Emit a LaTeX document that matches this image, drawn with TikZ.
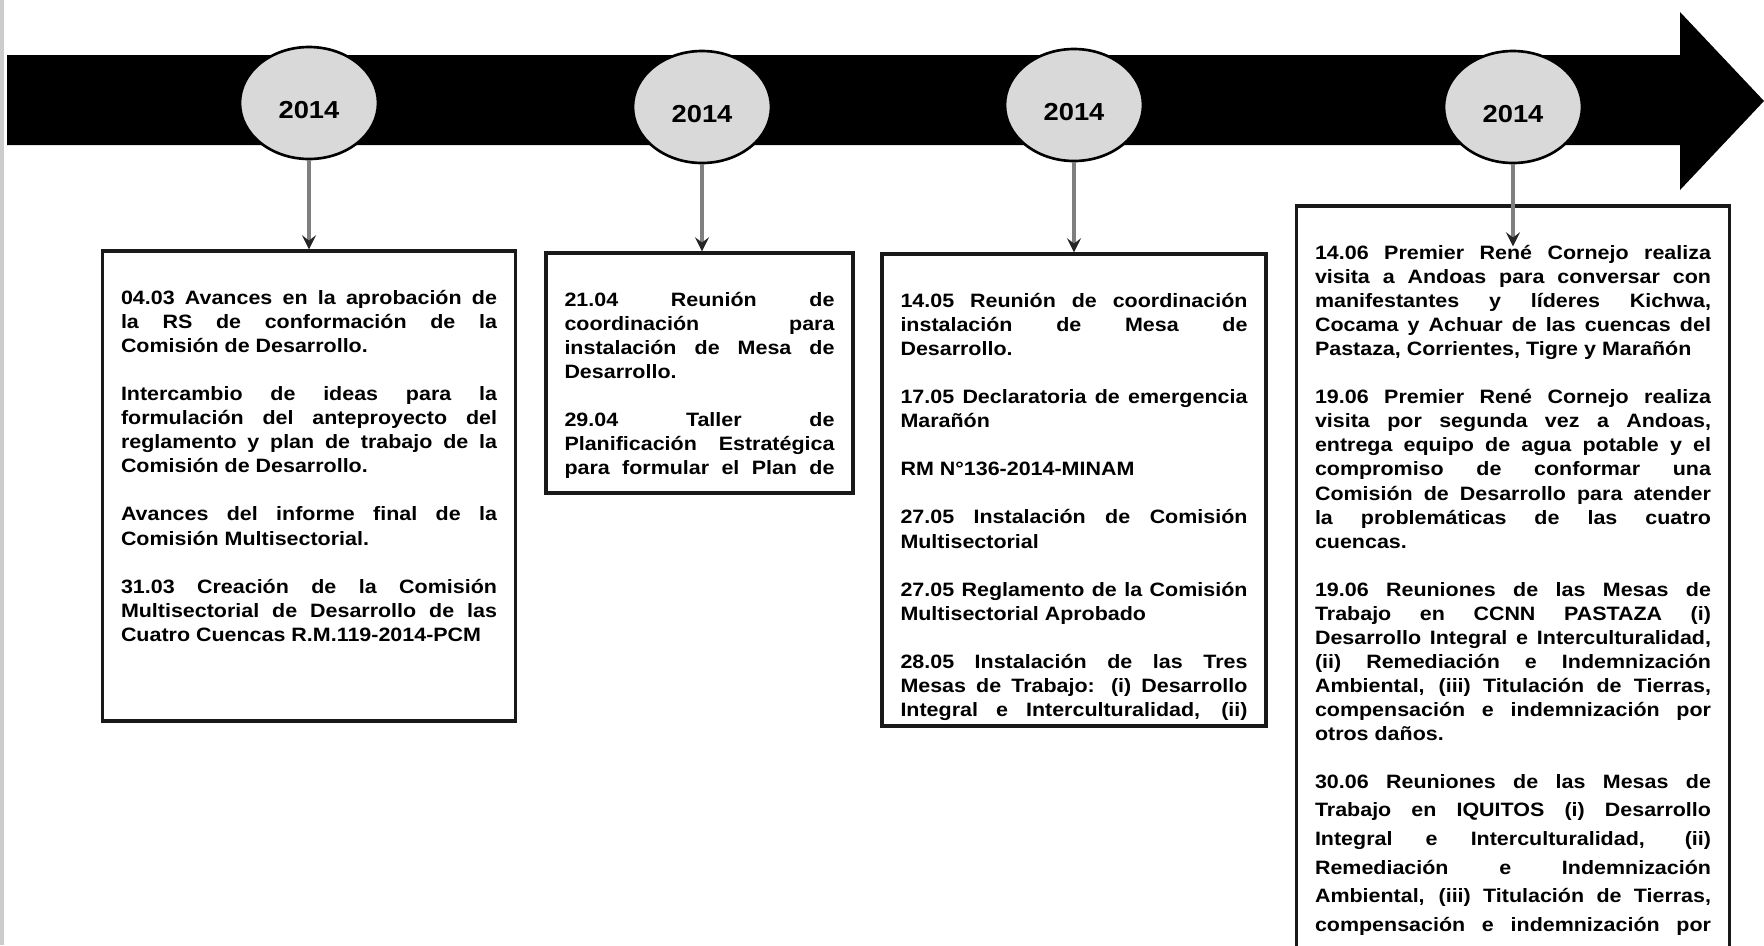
\documentclass[tikz,border=0pt]{standalone}
\usepackage{fontspec}
\setmainfont{Liberation Sans}[FakeStretch=1.11]
\usetikzlibrary{positioning, shapes.geometric, arrows.meta}
\definecolor{elipse}{HTML}{D9D9D9}
\definecolor{gris}{HTML}{7F7F7F}
\tolerance=10000
\hyphenpenalty=10000

\begin{document}
\begin{tikzpicture}[anio/.style={ellipse, draw=black, line width=1.5pt, fill=elipse, minimum width=2.76cm, minimum height=2.24cm, inner sep=0pt, font=\fontsize{14}{16}\selectfont\bfseries, text height=0.63cm, text depth=0pt},
  caja/.style={draw=black!90, line width=2pt, fill=white, inner xsep=0.37cm, inner ysep=0.78cm, font=\fontsize{11}{13.7}\selectfont\bfseries},
  flecha/.style={-{Stealth[length=8pt, width=8pt, inset=3pt, color=black!85]}, line width=1.8pt, draw=gris}]

  \useasboundingbox (0,0) rectangle (35.28,-18.9);
  \clip (0,0) rectangle (35.28,-18.9);

  % Page edge and timeline arrow
  \fill[black!20] (0,0) rectangle (0.09,-18.9);
  \fill[black] (0.14,-1.10) -- (33.60,-1.10) -- (33.60,-0.24) -- (35.28,-2.02) -- (33.60,-3.80) -- (33.60,-2.90) -- (0.14,-2.90) -- cycle;

  % Years
  \node[anio] (E1) at (6.18,-2.06) {2014};
  \node[anio] (E2) at (14.04,-2.14) {2014};
  \node[anio] (E3) at (21.48,-2.10) {2014};
  \node[anio] (E4) at (30.26,-2.14) {2014};

  % Boxes
  \node[caja, below=1.78cm of E1] (B1) {\parbox[t][7.84cm][t]{7.52cm}{\setlength{\parskip}{13.7pt}%
    04.03 Avances en la aprobación de\linebreak la RS de conformación de la\linebreak Comisión de Desarrollo.

    Intercambio de ideas para la\linebreak formulación del anteproyecto del\linebreak reglamento y plan de trabajo de la\linebreak Comisión de Desarrollo.

    Avances del informe final de la\linebreak Comisión Multisectorial.

    31.03 Creación de la Comisión\linebreak Multisectorial de Desarrollo de las\linebreak Cuatro Cuencas R.M.119-2014-PCM}};

  \node[caja, below=1.74cm of E2, xshift=-0.05cm] (B2) {\parbox[t][3.24cm][t]{5.40cm}{\setlength{\parskip}{13.7pt}%
    21.04 Reunión de\linebreak coordinación para\linebreak instalación de Mesa de\linebreak Desarrollo.

    29.04 Taller de\linebreak Planificación Estratégica\linebreak para formular el Plan de\parfillskip=0pt}};

  \node[caja, below=1.80cm of E3] (B3) {\parbox[t][7.88cm][t]{6.94cm}{\setlength{\parskip}{13.7pt}%
    14.05 Reunión de coordinación\linebreak instalación de Mesa de\linebreak Desarrollo.

    17.05 Declaratoria de emergencia\linebreak Marañón

    RM N°136-2014-MINAM

    27.05 Instalación de Comisión\linebreak Multisectorial

    27.05 Reglamento de la Comisión\linebreak Multisectorial Aprobado

    28.05 Instalación de las Tres\linebreak Mesas de Trabajo: (i) Desarrollo\linebreak Integral e Interculturalidad, (ii)\parfillskip=0pt}};

  \node[caja, below=0.80cm of E4] (B4) {\parbox[t][14.44cm][t]{7.92cm}{\setlength{\parskip}{13.7pt}%
    14.06 Premier René Cornejo realiza\linebreak visita a Andoas para conversar con\linebreak manifestantes y líderes Kichwa,\linebreak Cocama y Achuar de las cuencas del\linebreak Pastaza, Corrientes, Tigre y Marañón

    19.06 Premier René Cornejo realiza\linebreak visita por segunda vez a Andoas,\linebreak entrega equipo de agua potable y el\linebreak compromiso de conformar una\linebreak Comisión de Desarrollo para atender\linebreak la problemáticas de las cuatro\linebreak cuencas.

    19.06 Reuniones de las Mesas de\linebreak Trabajo en CCNN PASTAZA (i)\linebreak Desarrollo Integral e Interculturalidad,\linebreak (ii) Remediación e Indemnización\linebreak Ambiental, (iii) Titulación de Tierras,\linebreak compensación e indemnización por\linebreak otros daños.

    {\setlength{\parskip}{10.7pt}\fontsize{11}{16.3}\selectfont 30.06 Reuniones de las Mesas de\linebreak Trabajo en IQUITOS (i) Desarrollo\linebreak Integral e Interculturalidad, (ii)\linebreak Remediación e Indemnización\linebreak Ambiental, (iii) Titulación de Tierras,\linebreak compensación e indemnización por\parfillskip=0pt\par}}};
  \coordinate[below=0.84cm of B4.north] (T4);

  % Arrows from years to boxes
  \draw[flecha] (E1.south) -- (E1.south |- B1.north);
  \draw[flecha] (E2.south) -- (E2.south |- B2.north);
  \draw[flecha] (E3.south) -- (E3.south |- B3.north);
  \draw[flecha] (E4.south) -- (E4.south |- T4);

\end{tikzpicture}
\end{document}
